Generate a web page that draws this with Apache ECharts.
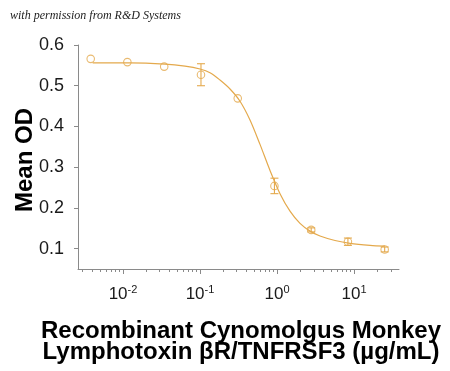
<!DOCTYPE html>
<html>
<head>
<meta charset="utf-8">
<script src="https://cdn.jsdelivr.net/npm/echarts@6/dist/echarts.min.js"></script>
<style>html,body{margin:0;padding:0;background:#fff;}#c{width:450px;height:371px;}</style>
</head>
<body>
<div id="c"></div>
<script>
// Data
const conc = [0.00381, 0.0114, 0.0343, 0.103, 0.309, 0.926, 2.78, 8.33, 25];
const meanOD = [0.566, 0.558, 0.547, 0.527, 0.469, 0.254, 0.146, 0.117, 0.098];
const sdOD = [0, 0, 0, 0.027, 0, 0.019, 0.005, 0.009, 0.006];
// fitted curve, points
const curveConc = [0.00404, 0.01233, 0.03511, 0.06386, 0.1, 0.1349, 0.1818, 0.2453, 0.3307, 0.446, 0.6015, 0.8111, 1.094, 1.475, 1.989, 2.683, 3.618, 5.665, 8.873, 16.14, 25.27];
const curveOD = [0.556, 0.556, 0.553, 0.548, 0.541, 0.532, 0.514, 0.492, 0.462, 0.416, 0.356, 0.292, 0.235, 0.192, 0.162, 0.143, 0.131, 0.120, 0.113, 0.108, 0.106];
const xMajorTicks = [0.01, 0.1, 1, 10];
const xMinorTicks = [0.003,0.004,0.005,0.006,0.007,0.008,0.009,
  0.02,0.03,0.04,0.05,0.06,0.07,0.08,0.09,
  0.2,0.3,0.4,0.5,0.6,0.7,0.8,0.9,
  2,3,4,5,6,7,8,9,20,30];
const yTicks = [0.1, 0.2, 0.3, 0.4, 0.5, 0.6];
const yTitle = 'Mean OD';
const xTitle = ['Recombinant Cynomolgus Monkey', 'Lymphotoxin \u03b2R/TNFRSF3 (\u00b5g/mL)'];
const watermark = 'with permission from R&D Systems';

const C = '#E4A94C';
const AX = '#8a8a8a';
const FONT = '"Liberation Sans", Arial, sans-serif';

const chart = echarts.init(document.getElementById('c'), null, {renderer: 'canvas'});
const xMin = Math.pow(10, -2.584), xMax = Math.pow(10, 1.584);

chart.setOption({
  animation: false,
  backgroundColor: '#fff',
  grid: {left: 78, top: 45, right: 51, bottom: 102},
  xAxis: [{
    type: 'log', logBase: 10, min: xMin, max: xMax,
    axisLine: {show: true, lineStyle: {color: AX, width: 1}},
    axisTick: {show: true, length: 5, lineStyle: {color: AX}, customValues: xMajorTicks},
    splitLine: {show: false},
    axisLabel: {
      customValues: xMajorTicks, margin: 15,
      formatter: function (v) { return '{b|10}{s|' + Math.round(Math.log10(v)) + '}'; },
      rich: {
        b: {fontFamily: FONT, fontSize: 17, color: '#1a1a1a', lineHeight: 20},
        s: {fontFamily: FONT, fontSize: 11, color: '#1a1a1a', lineHeight: 20, verticalAlign: 'top'}
      }
    }
  }, {
    type: 'log', logBase: 10, min: xMin, max: xMax, position: 'bottom',
    axisLine: {show: false},
    axisTick: {show: true, length: 3, lineStyle: {color: AX}, customValues: xMinorTicks},
    axisLabel: {show: false},
    splitLine: {show: false}
  }],
  yAxis: {
    type: 'value', min: 0.05, max: 0.6,
    axisLine: {show: true, lineStyle: {color: AX, width: 1}},
    axisTick: {show: true, length: 4, lineStyle: {color: AX}, customValues: yTicks},
    splitLine: {show: false},
    axisLabel: {customValues: yTicks, margin: 14, fontFamily: FONT, fontSize: 18, color: '#1a1a1a',
      formatter: function (v) { return v.toFixed(1); }}
  },
  graphic: [
    {type: 'text', left: 10, top: 10, style: {text: watermark, font: 'italic 12px "Liberation Serif", "DejaVu Serif", serif', fill: '#222'}},
    {type: 'text', x: 25, y: 160, rotation: Math.PI / 2,
      style: {text: yTitle, font: 'bold 24px ' + FONT, fill: '#000', align: 'center', verticalAlign: 'middle'}},
    {type: 'text', x: 241, y: 342,
      style: {text: xTitle.join('\n'), font: 'bold 24px ' + FONT, fill: '#000', align: 'center', verticalAlign: 'middle', lineHeight: 21}}
  ],
  series: [{
    type: 'line', name: 'fit', xAxisIndex: 0,
    data: curveConc.map((x, i) => [x, curveOD[i]]),
    smooth: 0.3, showSymbol: false, symbol: 'none',
    lineStyle: {color: C, width: 1.2}, z: 2
  }, {
    type: 'scatter', name: 'points', xAxisIndex: 0,
    data: conc.map((x, i) => [x, meanOD[i]]),
    symbol: 'circle', symbolSize: 7.5,
    itemStyle: {color: 'rgba(255,255,255,0)', borderColor: C, borderWidth: 1.1}, z: 4
  }, {
    type: 'custom', name: 'err', xAxisIndex: 0,
    data: conc.map((x, i) => [x, meanOD[i], sdOD[i]]),
    renderItem: function (params, api) {
      const x = api.value(0), m = api.value(1), s = api.value(2);
      if (!s) return null;
      const t = api.coord([x, m + s]), b = api.coord([x, m - s]);
      const w = 4;
      const st = {stroke: C, lineWidth: 1.1};
      return {type: 'group', children: [
        {type: 'line', shape: {x1: t[0], y1: t[1], x2: b[0], y2: b[1]}, style: st},
        {type: 'line', shape: {x1: t[0] - w, y1: t[1], x2: t[0] + w, y2: t[1]}, style: st},
        {type: 'line', shape: {x1: b[0] - w, y1: b[1], x2: b[0] + w, y2: b[1]}, style: st}
      ]};
    }, z: 3
  }]
});
</script>
</body>
</html>
